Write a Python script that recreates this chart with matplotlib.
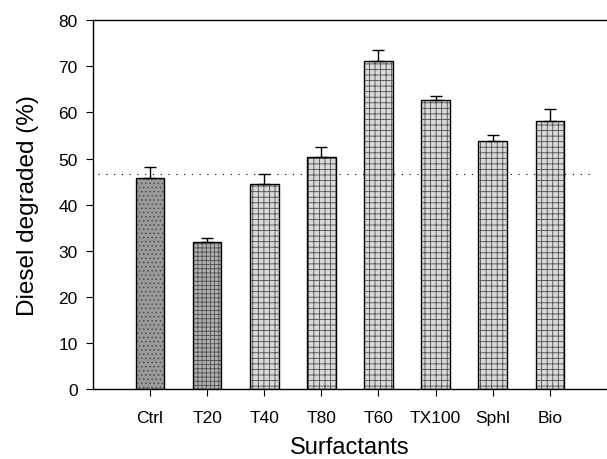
import matplotlib.pyplot as plt
import numpy as np

plt.rcParams['font.family'] = ['Liberation Sans', 'DejaVu Sans']
plt.rcParams['hatch.linewidth'] = 0.6

# data
surfactants = ['Ctrl', 'T20', 'T40', 'T80', 'T60', 'TX100', 'Sphl', 'Bio']
degraded = [45.8, 32.0, 44.5, 50.4, 71.2, 62.7, 53.7, 58.2]
errors = [2.4, 0.8, 2.1, 2.0, 2.3, 0.9, 1.3, 2.5]
ctrl_level = 46.6  # dotted reference line

# texture per bar: darker for Ctrl/T20, lighter maze for the rest
face = ['#9a9a9a', '#b0b0b0'] + ['#d9d9d9'] * 6
hatches = ['....', '++++'] + ['+++'] * 6

fig = plt.figure(figsize=(6.07, 4.6), dpi=100)
ax = fig.add_axes([0.153, 0.152, 0.847, 0.802])

x = np.arange(len(surfactants))
lower = [0] * len(errors)
bars = ax.bar(x, degraded, width=0.5, color=face, edgecolor='black',
              linewidth=1.0, yerr=[lower, errors], capsize=4,
              error_kw={'elinewidth': 1.0, 'capthick': 1.0, 'ecolor': 'black'})
for b, h in zip(bars, hatches):
    b.set_hatch(h)
    b._hatch_color = (0.3, 0.3, 0.3, 1.0)

ax.axhline(ctrl_level, xmin=0.01, xmax=0.97, color='black', linestyle=(0, (1, 6)),
           linewidth=0.8, zorder=0)

ax.set_xlim(-1, 8)
ax.set_ylim(0, 80)
ax.set_yticks(range(0, 81, 10))
ax.set_xticks(x)
ax.set_xticklabels(surfactants)
ax.tick_params(axis='both', direction='out', length=5, width=0.8, labelsize=12.5)
ax.tick_params(axis='y', pad=6)
ax.tick_params(axis='x', pad=10)
ax.spines['right'].set_visible(False)
for s in ['left', 'bottom', 'top']:
    ax.spines[s].set_linewidth(1.0)

ax.set_xlabel('Surfactants', fontsize=17, labelpad=8)
ax.set_ylabel('Diesel degraded (%)', fontsize=17.5, labelpad=14)

fig.savefig('out.png', dpi=100)
